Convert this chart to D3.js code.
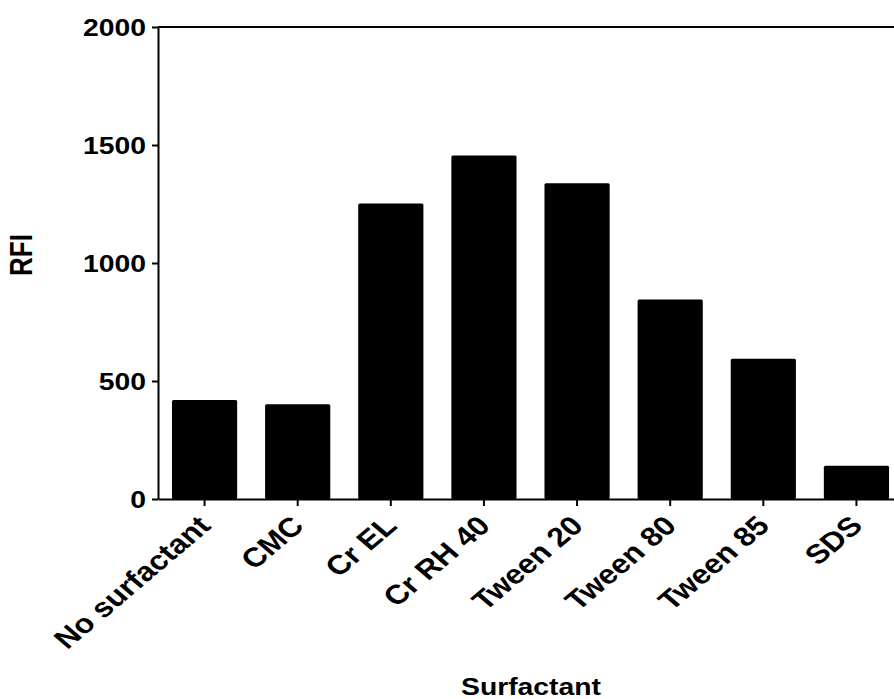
<!DOCTYPE html>
<html>
<head>
<meta charset="utf-8">
<script src="https://cdn.jsdelivr.net/npm/d3@7"></script>
<style>
  body { margin: 0; background: #fff; }
  svg { display: block; }
  text { font-family: "Liberation Sans", Arial, sans-serif; font-weight: bold; fill: #000; }
</style>
</head>
<body>
<svg id="chart" width="894" height="699"></svg>
<script>
var categories = ['No surfactant', 'CMC', 'Cr EL', 'Cr RH 40', 'Tween 20', 'Tween 80', 'Tween 85', 'SDS'];
var rfiValues = [419, 401, 1252, 1456, 1338, 845, 594, 141];
var yTicks = [0, 500, 1000, 1500, 2000];

var chartWidth = 894;
var plotLeft = 158;
var plotRight = 903;   // plot runs past the window edge, as in the reference
var plotTop = 27;
var plotBottom = 499;
var stretch = 1.18;   // reference text is wider than plain Arial bold

var svg = d3.select('#chart');

var x = d3.scaleBand()
    .domain(categories)
    .range([plotLeft, plotRight])
    .paddingInner(0.3)
    .paddingOuter(0.15);

var y = d3.scaleLinear()
    .domain([0, 2000])
    .range([plotBottom, plotTop]);

// bars
svg.append('g').selectAll('rect')
    .data(rfiValues)
    .enter().append('rect')
        .attr('x', function (d, i) { return x(categories[i]); })
        .attr('y', function (d) { return y(d); })
        .attr('width', x.bandwidth())
        .attr('height', function (d) { return y(0) - y(d); })
        .attr('rx', 1.5)
        .attr('fill', '#000');

// top frame line
svg.append('line')
    .attr('x1', plotLeft).attr('x2', chartWidth)
    .attr('y1', y(2000)).attr('y2', y(2000))
    .attr('stroke', '#000').attr('stroke-width', 2);

// y axis
var yAxis = svg.append('g')
    .attr('transform', 'translate(' + plotLeft + ',0)')
    .call(d3.axisLeft(y).tickValues(yTicks).tickFormat(d3.format('d'))
        .tickSize(6).tickPadding(6).tickSizeOuter(0));

yAxis.select('.domain').attr('stroke', '#000').attr('stroke-width', 2);
yAxis.selectAll('.tick line').attr('stroke', '#000').attr('stroke-width', 2);
yAxis.selectAll('.tick text')
    .attr('font-size', '24px')
    .attr('dy', '0.36em')
    .attr('transform', function () {
        var xPos = +d3.select(this).attr('x');
        return 'translate(' + xPos + ',0) scale(' + stretch + ',1) translate(' + (-xPos) + ',0)';
    });

// x axis
var xAxis = svg.append('g')
    .attr('transform', 'translate(0,' + plotBottom + ')')
    .call(d3.axisBottom(x).tickSize(7).tickSizeOuter(0).tickFormat(''));

xAxis.select('.domain').attr('stroke', '#000').attr('stroke-width', 2);
xAxis.selectAll('.tick line').attr('stroke', '#000').attr('stroke-width', 2);

svg.append('g').selectAll('text')
    .data(categories)
    .enter().append('text')
        .attr('font-size', '27px')
        .attr('text-anchor', 'end')
        .attr('dy', '0.7em')
        .attr('transform', function (d) {
            var tx = x(d) + x.bandwidth() / 2 - 8;
            var ty = plotBottom + 15;
            return 'translate(' + tx + ',' + ty + ') scale(' + stretch + ',1) rotate(-45)';
        })
        .text(function (d) { return d; });

// axis titles
svg.append('text')
    .attr('font-size', '24px')
    .attr('text-anchor', 'middle')
    .attr('transform', 'translate(531,695) scale(' + stretch + ',1)')
    .text('Surfactant');

svg.append('text')
    .attr('font-size', '26px')
    .attr('text-anchor', 'middle')
    .attr('transform', 'translate(32,255) scale(' + stretch + ',1) rotate(-90)')
    .text('RFI');
</script>
</body>
</html>
